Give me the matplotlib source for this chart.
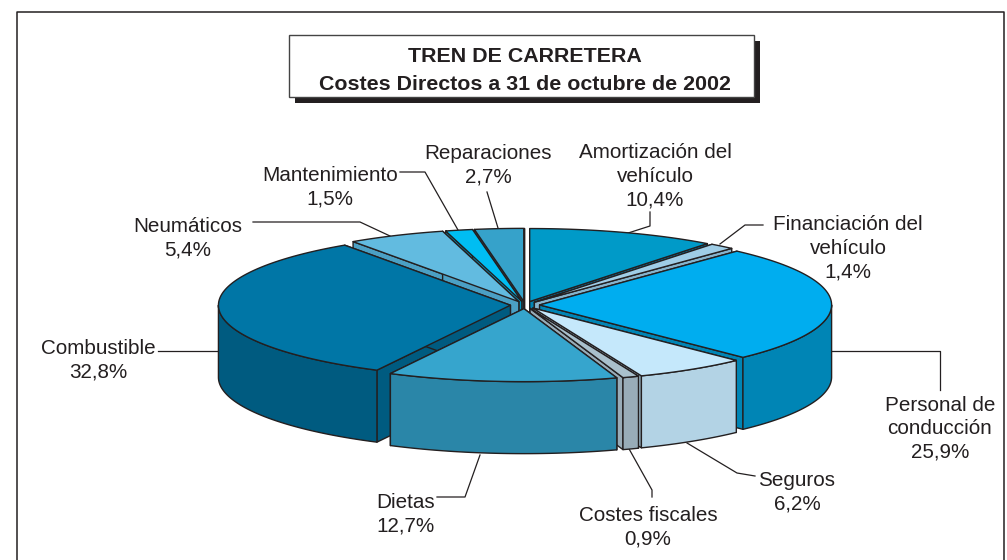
import numpy as np
import matplotlib
matplotlib.use("Agg")
import matplotlib.pyplot as plt
from matplotlib.patches import Polygon, Rectangle

plt.rcParams['font.family'] = ['Liberation Sans', 'DejaVu Sans']

categories = ["Amortización del\nvehículo", "Financiación del\nvehículo", "Personal de\nconducción",
              "Seguros", "Costes fiscales", "Dietas", "Combustible", "Neumáticos",
              "Mantenimiento", "Reparaciones"]
values = [10.4, 1.4, 25.9, 6.2, 0.9, 12.7, 32.8, 5.4, 1.5, 2.7]
value_labels = ["10,4%", "1,4%", "25,9%", "6,2%", "0,9%", "12,7%", "32,8%", "5,4%", "1,5%", "2,7%"]
top_colors = ["#009ac8", "#9fcde6", "#00adef", "#c5e8fb", "#a9c0cc",
              "#36a5cd", "#0076a6", "#62bbe0", "#00bdf2", "#36a2ca"]
side_colors = ["#0085b5", "#86b3cc", "#0085b5", "#b3d3e5", "#98acb8",
               "#2a86a8", "#005b80", "#4ba0c4", "#0098c4", "#2a86a8"]

label_pos = [(655, 176), (848, 248), (940, 429), (797, 492), (648, 527),
             (406, 514), (98, 360), (188, 238), (330, 187), (488, 165)]
leaders = [[(650, 212), (650, 226), (625, 234)],
           [(763, 225), (745, 225), (720, 244)],
           [(832, 351), (940, 351), (940, 390)],
           [(687, 443), (737, 473), (755, 476)],
           [(628, 447), (652, 490), (652, 497)],
           [(480, 455), (465, 497), (437, 497)],
           [(158, 351), (218, 351)],
           [(253, 222), (360, 222), (390, 236)],
           [(400, 172), (425, 172), (458, 230)],
           [(487, 192), (498, 228)]]

CX, CY, RX, RY, DEPTH, EXPLODE = 525, 305, 292, 73, 72, 0.05
INK = "#231f20"

fig = plt.figure(figsize=(10.07, 5.6), dpi=100)
ax = fig.add_axes([0, 0, 1, 1])
ax.set_xlim(0, 1007)
ax.set_ylim(560, 0)
ax.axis("off")

# Outer frame
ax.plot([17, 17, 1004, 1004], [560, 12, 12, 560], color=INK, lw=1.1, zorder=1)

# Title box with drop shadow
ax.add_patch(Rectangle((295, 41), 465, 62, fc=INK, ec="none", zorder=2))
ax.add_patch(Rectangle((289, 35), 465, 62, fc="white", ec="#444444", lw=1.0, zorder=3))
ax.text(525, 56, "TREN DE CARRETERA", ha="center", va="center", fontsize=15.4,
        fontweight="bold", color=INK, zorder=4)
ax.text(525, 84, "Costes Directos a 31 de octubre de 2002", ha="center", va="center",
        fontsize=15.4, fontweight="bold", color=INK, zorder=4)

# Slices
fractions = np.array(values) / np.sum(values)
ends = np.cumsum(fractions) * 2 * np.pi
starts = ends - fractions * 2 * np.pi
mids = (starts + ends) / 2


def pt(t, cx, cy):
    return cx + RX * np.sin(t), cy - RY * np.cos(t)


order = np.argsort(-np.cos(mids))
z = 10
for i in order:
    s, e, m = starts[i], ends[i], mids[i]
    cx = CX + EXPLODE * RX * np.sin(m)
    cy = CY - EXPLODE * RY * np.cos(m)
    style = dict(ec=INK, lw=1.0, joinstyle="round")
    ts = np.linspace(s, e, 80)
    x, y = pt(ts, cx, cy)
    # radial faces
    for t in (s, e):
        rx_, ry_ = pt(t, cx, cy)
        ax.add_patch(Polygon([(cx, cy), (rx_, ry_), (rx_, ry_ + DEPTH), (cx, cy + DEPTH)],
                             fc=side_colors[i], zorder=z, **style))
    # outer wall (front part only)
    lo, hi = max(s, np.pi / 2), min(e, 3 * np.pi / 2)
    if hi > lo:
        tw = np.linspace(lo, hi, 80)
        wx, wy = pt(tw, cx, cy)
        ax.add_patch(Polygon(np.r_[np.c_[wx, wy], np.c_[wx[::-1], wy[::-1] + DEPTH]],
                             fc=side_colors[i], zorder=z + 1, **style))
    # top face
    ax.add_patch(Polygon(np.r_[[(cx, cy)], np.c_[x, y]], fc=top_colors[i], zorder=z + 2, **style))
    z += 3

# Labels and leaders
for name, val, (lx, ly), path in zip(categories, value_labels, label_pos, leaders):
    ax.text(lx, ly, f"{name}\n{val}", ha="center", va="center", fontsize=14.85,
            color=INK, linespacing=1.3, zorder=100)
    p = np.array(path)
    ax.plot(p[:, 0], p[:, 1], color=INK, lw=0.9, zorder=5)

fig.savefig("out.png", dpi=100)
